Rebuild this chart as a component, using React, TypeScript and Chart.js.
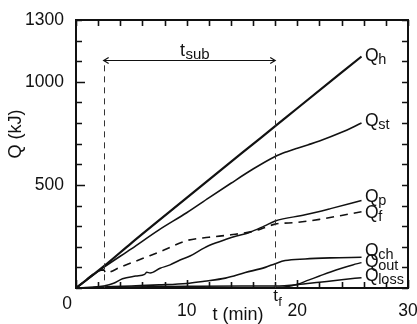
import React, { useEffect, useRef } from "react";
import { Chart, registerables } from "chart.js";

Chart.register(...registerables);

const FONT = '"Liberation Sans", Arial, Helvetica, sans-serif';

// ---- data (t in min, Q in kJ) ----
const qhT = [0, 2.5, 5, 10, 15, 18, 20, 25.8];
const qhV = [0, 105, 218, 437, 655, 785, 872, 1123];

const qstT = [0, 2.5, 5, 7.5, 10, 12, 14, 16, 18, 19, 20, 21, 22, 24, 25.8];
const qstV = [0, 100, 190, 282, 365, 437, 508, 577, 638, 660, 678, 695, 713, 755, 800];

const qpT = [0, 1.5, 2.5, 3.4, 4.2, 5.4, 6.2, 6.4, 6.7, 7.6, 8.5, 9.4, 10.3, 11.6, 12.6, 13.5, 14.5, 15.6, 17, 18, 20.7, 23, 25.8];
const qpV = [0, 4, 10, 23, 45, 58, 66, 76, 73, 96, 112, 136, 155, 195, 218, 235, 252, 268, 300, 325, 355, 385, 424];

const qfT = [0, 2.5, 2.7, 4, 6, 8, 10, 12, 14, 16, 17, 18, 20, 22, 24, 25.8];
const qfV = [0, 88, 74, 101, 143, 185, 230, 246, 258, 275, 292, 310, 318, 333, 352, 370];

const qchT = [0, 2.5, 5, 7.5, 10, 11.6, 13.5, 15.3, 17.1, 18, 18.9, 20.7, 23, 25.8];
const qchV = [0, 5, 10, 15, 22, 33, 48, 75, 100, 118, 133, 141, 146, 149];

const qoutT = [0, 17, 18, 19, 20, 21, 22, 23, 24, 25, 25.8];
const qoutV = [0, 0, 2, 6, 18, 38, 58, 78, 96, 112, 123];

const qlossT = [0, 5, 10, 15, 18, 20, 22, 24, 25.8];
const qlossV = [0, 5, 8, 10, 10, 16, 28, 40, 50];

const seriesSubs = ["h", "st", "p", "f", "ch", "out", "loss"];

// x / y tick labels shown
const xLabelled = [10, 20, 30];
const yLabelled = [500, 1000, 1300];

// annotation values
const tSubStart = 2.5;
const tSubEnd = 18;
const tSubQ = 1105;
const dashTopQ = 1080;

const pts = (t: number[], v: number[]) => t.map((x, i) => ({ x, y: v[i] }));

// label offsets (pixels) relative to line end
const labelDy = [4.5, 3, 1, 6, -1, 4.5, 3.5];

export default function App() {
  const ref = useRef<HTMLCanvasElement | null>(null);

  useEffect(() => {
    document.body.style.margin = "0";
    const canvas = ref.current!;
    const ink = "#111";

    const overlay = {
      id: "overlay",
      afterDatasetsDraw(chart: any) {
        const ctx = chart.ctx as CanvasRenderingContext2D;
        const { left, right, top, bottom } = chart.chartArea;
        const xs = chart.scales.x;
        const ys = chart.scales.y;
        ctx.save();
        ctx.strokeStyle = ink;
        ctx.fillStyle = ink;

        // frame
        ctx.lineWidth = 2;
        ctx.strokeRect(left, top, right - left, bottom - top);

        // inward ticks
        ctx.lineWidth = 1.6;
        for (let v = 0; v <= 1300; v += 100) {
          const y = Math.round(ys.getPixelForValue(v)) + 0.5;
          const len = v === 500 || v === 1000 ? 9 : 6;
          ctx.beginPath();
          ctx.moveTo(left, y);
          ctx.lineTo(left + len, y);
          ctx.moveTo(right, y);
          ctx.lineTo(right - 6, y);
          ctx.stroke();
        }
        for (let t = 0; t <= 30; t += 2) {
          const x = Math.round(xs.getPixelForValue(t)) + 0.5;
          const len = t % 10 === 0 ? 8 : 6;
          ctx.beginPath();
          ctx.moveTo(x, bottom);
          ctx.lineTo(x, bottom - len);
          ctx.moveTo(x, top);
          ctx.lineTo(x, top + 6);
          ctx.stroke();
        }

        // dashed verticals
        const x1 = xs.getPixelForValue(tSubStart);
        const x2 = xs.getPixelForValue(tSubEnd);
        const yA = ys.getPixelForValue(tSubQ);
        ctx.lineWidth = 1;
        ctx.strokeStyle = "#333";
        ctx.setLineDash([6, 5]);
        [x1, x2].forEach((x) => {
          ctx.beginPath();
          ctx.moveTo(Math.round(x) + 0.5, ys.getPixelForValue(dashTopQ));
          ctx.lineTo(Math.round(x) + 0.5, bottom);
          ctx.stroke();
        });
        ctx.setLineDash([]);

        // t_sub arrow
        ctx.strokeStyle = ink;
        ctx.lineWidth = 1.2;
        const ya = Math.round(yA) + 0.5;
        ctx.beginPath();
        ctx.moveTo(x1, ya);
        ctx.lineTo(x2, ya);
        ctx.moveTo(x1 + 5, ya - 3);
        ctx.lineTo(x1, ya);
        ctx.lineTo(x1 + 5, ya + 3);
        ctx.moveTo(x2 - 5, ya - 3);
        ctx.lineTo(x2, ya);
        ctx.lineTo(x2 - 5, ya + 3);
        ctx.stroke();

        ctx.textBaseline = "alphabetic";
        ctx.textAlign = "left";
        ctx.font = `18px ${FONT}`;
        ctx.fillText("t", 180, ya - 5);
        ctx.font = `15px ${FONT}`;
        ctx.fillText("sub", 185.5, ya - 2);

        // t_f label under axis
        ctx.font = `17px ${FONT}`;
        ctx.fillText("t", x2 - 2, bottom + 13);
        ctx.font = `13px ${FONT}`;
        ctx.fillText("f", x2 + 3, bottom + 18);

        // origin "0"
        ctx.font = `17.5px ${FONT}`;
        ctx.textAlign = "center";
        ctx.textBaseline = "middle";
        ctx.fillText("0", left - 9, bottom + 16);

        // series labels
        ctx.textAlign = "left";
        ctx.textBaseline = "alphabetic";
        chart.data.datasets.forEach((ds: any, i: number) => {
          const meta = chart.getDatasetMeta(i);
          const p = meta.data[meta.data.length - 1];
          const qx = p.x + 3.5;
          const qy = p.y + labelDy[i];
          ctx.font = `17.5px ${FONT}`;
          ctx.fillText("Q", qx, qy);
          const w = ctx.measureText("Q").width;
          ctx.font = `14.5px ${FONT}`;
          ctx.fillText(seriesSubs[i], qx + w - 0.5, qy + 3);
        });

        // axis titles
        ctx.font = `18px ${FONT}`;
        ctx.textAlign = "center";
        ctx.fillText("t (min)", 238, 320);
        ctx.save();
        ctx.translate(16, 134);
        ctx.rotate(-Math.PI / 2);
        ctx.textBaseline = "middle";
        ctx.fillText("Q (kJ)", 0, 0);
        ctx.restore();

        ctx.restore();
      },
    };

    const mk = (t: number[], v: number[], width: number, dash: number[] = []) => ({
      data: pts(t, v),
      borderColor: ink,
      borderWidth: width,
      borderDash: dash,
      pointRadius: 0,
      fill: false,
      cubicInterpolationMode: "monotone" as const,
    });

    const chart = new Chart(canvas, {
      type: "line",
      data: {
        datasets: [
          mk(qhT, qhV, 2.2),
          mk(qstT, qstV, 1.6),
          mk(qpT, qpV, 1.5),
          mk(qfT, qfV, 1.6, [8, 6]),
          mk(qchT, qchV, 1.6),
          mk(qoutT, qoutV, 1.5),
          mk(qlossT, qlossV, 1.5),
        ],
      },
      options: {
        animation: false,
        responsive: false,
        maintainAspectRatio: false,
        layout: { padding: { top: 20, right: 9, left: 0, bottom: 0 } },
        plugins: { legend: { display: false }, tooltip: { enabled: false } },
        scales: {
          x: {
            type: "linear",
            min: 0,
            max: 30,
            grid: { display: false },
            border: { display: false },
            ticks: {
              stepSize: 2,
              autoSkip: false,
              maxRotation: 0,
              padding: 5,
              color: ink,
              font: { family: FONT, size: 17.5 },
              callback: (v: any) => (xLabelled.includes(Number(v)) ? String(v) : ""),
            },
            afterFit: (s: any) => {
              s.height = 36;
              s.paddingLeft = 0;
              s.paddingRight = 0;
            },
          },
          y: {
            type: "linear",
            min: 0,
            max: 1300,
            grid: { display: false },
            border: { display: false },
            ticks: {
              stepSize: 100,
              autoSkip: false,
              padding: 4,
              color: ink,
              font: { family: FONT, size: 17.5 },
              callback: (v: any) => (yLabelled.includes(Number(v)) ? String(v) : ""),
            },
            afterFit: (s: any) => {
              s.width = 76;
              s.paddingTop = 0;
              s.paddingBottom = 0;
            },
          },
        },
      },
      plugins: [overlay],
    });

    return () => chart.destroy();
  }, []);

  return (
    <div style={{ width: 417, height: 324, background: "#fff" }}>
      <canvas ref={ref} width={417} height={324} style={{ display: "block" }} />
    </div>
  );
}
